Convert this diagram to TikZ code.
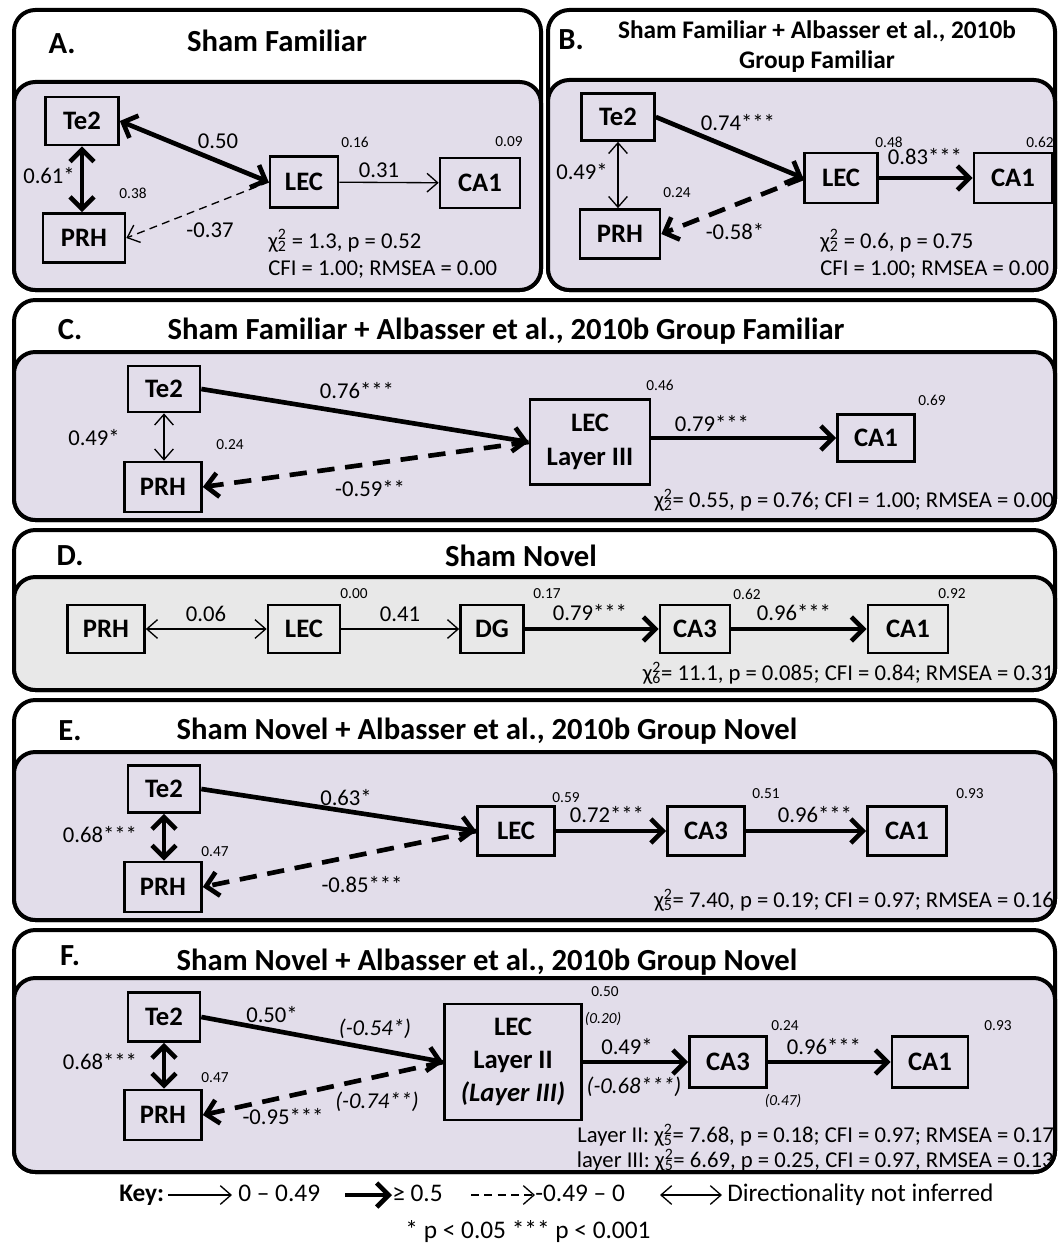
\documentclass[tikz,border=0pt]{standalone}
\usepackage{fontspec}
\setmainfont{Carlito}
\usetikzlibrary{arrows.meta}
\definecolor{famfill}{RGB}{226,221,234}
\definecolor{novfill}{RGB}{232,232,232}
\newcommand{\chisq}[1]{χ\rlap{\textsuperscript{2}}\textsubscript{#1}}

\begin{document}
\begin{tikzpicture}[
  x=0.75pt, y=-0.75pt,
  panel/.style={draw, line width=3pt, rounded corners=16pt},
  plot/.style={draw, line width=3pt, rounded corners=16pt, fill=famfill},
  var/.style={draw, line width=2pt, inner sep=0pt, align=center,
              font=\bfseries\fontsize{20}{25}\selectfont},
  wh/.style 2 args={minimum width=#1*0.75pt, minimum height=#2*0.75pt},
  ttl/.style={font=\bfseries\fontsize{23}{26}\selectfont, anchor=base, inner sep=0pt},
  lab/.style={font=\fontsize{17}{20}\selectfont, inner sep=1pt},
  ilab/.style={font=\itshape\fontsize{17}{20}\selectfont, inner sep=1pt},
  rsq/.style={font=\fontsize{11.5}{13}\selectfont, inner sep=1pt},
  fit/.style={font=\fontsize{17}{20.5}\selectfont, inner sep=0pt, align=left},
  keytxt/.style={font=\fontsize{19}{22}\selectfont, anchor=base west, inner sep=0pt},
  thin/.style={-{Straight Barb[length=8pt, width=14pt]}, line width=1pt},
  thk/.style={-{Straight Barb[length=9pt, width=18pt]}, line width=3.5pt},
  thinboth/.style={{Straight Barb[length=8pt, width=14pt]}-{Straight Barb[length=8pt, width=14pt]}, line width=1pt},
  thkboth/.style={{Straight Barb[length=9pt, width=18pt]}-{Straight Barb[length=9pt, width=18pt]}, line width=3.5pt},
  dsh/.style={dash pattern=on 13pt off 8pt}
]
\useasboundingbox (0,0) rectangle (1057,1245);

% A. sham familiar
\draw[panel] (14,10) rectangle (541,290);
\draw[plot] (14,82) rectangle (541,290);
\node[ttl] (a-id) at (62,54) {A.};
\node[ttl] (a-ttl) at (277,52) {Sham Familiar};
\node[var, wh={73}{48}] (a-te2) at (82,121) {Te2};
\node[var, wh={82}{49}] (a-prh) at (84,238) {PRH};
\node[var, wh={68}{51}] (a-lec) at (304,182) {LEC};
\node[var, wh={80}{50}] (a-ca1) at (480,183) {CA1};
\draw[thkboth] (a-te2.east) -- (a-lec.west);
\draw[thkboth] (a-te2.south) -- (a-te2.south |- a-prh.north);
\draw[thin, dash pattern=on 6pt off 4pt] (a-lec.west) -- (a-prh.east);
\draw[thin] (a-lec) -- (a-ca1);
\node[lab] (a-l1) at (218,141) {0.50};
\node[lab] (a-l2) at (49,176) {0.61*};
\node[lab] (a-l3) at (210,230) {-0.37};
\node[lab] (a-l4) at (379,170) {0.31};
\node[rsq] (a-r1) at (133,193) {0.38};
\node[rsq] (a-r2) at (355,142) {0.16};
\node[rsq] (a-r3) at (509,142) {0.09};
\node[fit, anchor=west] (a-fit) at (268,254) {\chisq{2} = 1.3, p = 0.52\\CFI = 1.00; RMSEA = 0.00};

% B. sham familiar + lesion group familiar
\draw[panel] (548,10) rectangle (1055,290);
\draw[plot] (548,80) rectangle (1055,290);
\node[ttl] (b-id) at (571,50) {B.};
\node[font=\bfseries\fontsize{19}{22.5}\selectfont, align=center] (b-ttl) at (817,47)
  {Sham Familiar + Albasser et al., 2010b\\Group Familiar};
\node[var, wh={73}{47}] (b-te2) at (618,117) {Te2};
\node[var, wh={80}{49}] (b-prh) at (620,234) {PRH};
\node[var, wh={73}{50}] (b-lec) at (841,178) {LEC};
\node[var, wh={78}{50}] (b-ca1) at (1013,178) {CA1};
\draw[thk] (b-te2.east) -- (b-lec.west);
\draw[thinboth] (b-te2.south) -- (b-te2.south |- b-prh.north);
\draw[thk, dsh] (b-lec.west) -- (b-prh.east);
\draw[thk] (b-lec) -- (b-ca1);
\node[lab] (b-l1) at (738,123) {0.74***};
\node[lab] (b-l2) at (582,172) {0.49*};
\node[lab] (b-l3) at (735,232) {-0.58*};
\node[lab] (b-l4) at (925,157) {0.83***};
\node[rsq] (b-r1) at (677,193) {0.24};
\node[rsq] (b-r2) at (889,142) {0.48};
\node[rsq] (b-r3) at (1040,142) {0.62};
\node[fit, anchor=west] (b-fit) at (820,254) {\chisq{2} = 0.6, p = 0.75\\CFI = 1.00; RMSEA = 0.00};

% C. pooled familiar, layer III
\draw[panel] (14,300) rectangle (1055,520);
\draw[plot] (14,352) rectangle (1055,520);
\node[ttl] (c-id) at (70,339) {C.};
\node[ttl] (c-ttl) at (506,339) {Sham Familiar + Albasser et al., 2010b Group Familiar};
\node[var, wh={72}{46}] (c-te2) at (164,389) {Te2};
\node[var, wh={77}{50}] (c-prh) at (163,487) {PRH};
\node[var, wh={120}{85}] (c-lec) at (590,442) {LEC\\Layer III};
\node[var, wh={77}{47}] (c-ca1) at (876,438) {CA1};
\draw[thk] (c-te2.east) -- (c-lec.west);
\draw[thinboth] (c-te2.south) -- (c-te2.south |- c-prh.north);
\draw[thk, dsh] (c-lec.west) -- (c-prh.east);
\draw[thk] (c-lec.east |- c-ca1) -- (c-ca1);
\node[lab] (c-l1) at (357,391) {0.76***};
\node[lab] (c-l2) at (94,438) {0.49*};
\node[lab] (c-l3) at (370,489) {-0.59**};
\node[lab] (c-l4) at (712,424) {0.79***};
\node[rsq] (c-r1) at (230,445) {0.24};
\node[rsq] (c-r2) at (660,385) {0.46};
\node[rsq] (c-r3) at (932,400) {0.69};
\node[fit, anchor=east] (c-fit) at (1054,500) {\chisq{2}= 0.55, p = 0.76; CFI = 1.00; RMSEA = 0.00};

% D. sham novel
\draw[panel] (14,530) rectangle (1055,690);
\draw[plot, fill=novfill] (14,577) rectangle (1055,690);
\node[ttl] (d-id) at (70,565) {D.};
\node[ttl] (d-ttl) at (521,566) {Sham Novel};
\node[var, wh={77}{48}] (d-prh) at (106,629) {PRH};
\node[var, wh={72}{48}] (d-lec) at (304,629) {LEC};
\node[var, wh={63}{48}] (d-dg) at (492,629) {DG};
\node[var, wh={70}{48}] (d-ca3) at (695,629) {CA3};
\node[var, wh={80}{48}] (d-ca1) at (908,629) {CA1};
\draw[thinboth] (d-prh) -- (d-lec);
\draw[thin] (d-lec) -- (d-dg);
\draw[thk] (d-dg) -- (d-ca3);
\draw[thk] (d-ca3) -- (d-ca1);
\node[lab] (d-l1) at (206,614) {0.06};
\node[lab] (d-l2) at (400,614) {0.41};
\node[lab] (d-l3) at (590,613) {0.79***};
\node[lab] (d-l4) at (794,613) {0.96***};
\node[rsq] (d-r1) at (354,594) {0.00};
\node[rsq] (d-r2) at (547,594) {0.17};
\node[rsq] (d-r3) at (747,594) {0.62};
\node[rsq] (d-r4) at (952,594) {0.92};
\node[fit, anchor=east] (d-fit) at (1054,673) {\chisq{6}= 11.1, p = 0.085; CFI = 0.84; RMSEA = 0.31};

% E. pooled novel
\draw[panel] (14,700) rectangle (1055,920);
\draw[plot] (14,752) rectangle (1055,920);
\node[ttl] (e-id) at (70,740) {E.};
\node[ttl] (e-ttl) at (487,739) {Sham Novel + Albasser et al., 2010b Group Novel};
\node[var, wh={72}{47}] (e-te2) at (164,789) {Te2};
\node[var, wh={77}{50}] (e-prh) at (163,887) {PRH};
\node[var, wh={77}{49}] (e-lec) at (516,831) {LEC};
\node[var, wh={77}{49}] (e-ca3) at (706,831) {CA3};
\node[var, wh={79}{49}] (e-ca1) at (907,831) {CA1};
\draw[thk] (e-te2.east) -- (e-lec.west);
\draw[thkboth] (e-te2.south) -- (e-te2.south |- e-prh.north);
\draw[thk, dsh] (e-lec.west) -- (e-prh.east);
\draw[thk] (e-lec) -- (e-ca3);
\draw[thk] (e-ca3) -- (e-ca1);
\node[lab] (e-l1) at (346,798) {0.63*};
\node[lab] (e-l2) at (100,835) {0.68***};
\node[lab] (e-l3) at (362,885) {-0.85***};
\node[lab] (e-l4) at (607,815) {0.72***};
\node[lab] (e-l5) at (815,815) {0.96***};
\node[rsq] (e-r1) at (215,852) {0.47};
\node[rsq] (e-r2) at (566,798) {0.59};
\node[rsq] (e-r3) at (766,794) {0.51};
\node[rsq] (e-r4) at (970,794) {0.93};
\node[fit, anchor=east] (e-fit) at (1054,900) {\chisq{5}= 7.40, p = 0.19; CFI = 0.97; RMSEA = 0.16};

% F. pooled novel, layer II (layer III)
\draw[panel] (14,930) rectangle (1055,1172);
\draw[plot] (14,978) rectangle (1055,1172);
\node[ttl] (f-id) at (70,965) {F.};
\node[ttl] (f-ttl) at (487,970) {Sham Novel + Albasser et al., 2010b Group Novel};
\node[var, wh={72}{49}] (f-te2) at (164,1017) {Te2};
\node[var, wh={77}{50}] (f-prh) at (163,1115) {PRH};
\node[var, wh={137}{116}] (f-lec) at (513,1062) {LEC\\Layer II\\\textit{(Layer III)}};
\node[var, wh={77}{51}] (f-ca3) at (728,1062) {CA3};
\node[var, wh={76}{51}] (f-ca1) at (930,1062) {CA1};
\draw[thk] (f-te2.east) -- (f-lec.west);
\draw[thkboth] (f-te2.south) -- (f-te2.south |- f-prh.north);
\draw[thk, dsh] (f-lec.west) -- (f-prh.east);
\draw[thk] (f-lec) -- (f-ca3);
\draw[thk] (f-ca3) -- (f-ca1);
\node[lab] (f-l1) at (272,1015) {0.50*};
\node[ilab] (f-l2) at (375,1029) {(-0.54*)};
\node[lab] (f-l3) at (100,1062) {0.68***};
\node[lab] (f-l4) at (283,1117) {-0.95***};
\node[ilab] (f-l5) at (377,1102) {(-0.74**)};
\node[lab] (f-l6) at (627,1047) {0.49*};
\node[ilab] (f-l7) at (634,1087) {(-0.68***)};
\node[lab] (f-l8) at (824,1047) {0.96***};
\node[rsq] (f-r1) at (215,1078) {0.47};
\node[rsq] (f-r2) at (605,992) {0.50};
\node[rsq, font=\itshape\fontsize{11.5}{13}\selectfont] (f-r3) at (603,1019) {(0.20)};
\node[rsq] (f-r4) at (785,1026) {0.24};
\node[rsq, font=\itshape\fontsize{11.5}{13}\selectfont] (f-r5) at (783,1101) {(0.47)};
\node[rsq] (f-r6) at (998,1026) {0.93};
\node[fit, anchor=east] (f-fit1) at (1054,1135) {Layer II: \chisq{5}= 7.68, p = 0.18; CFI = 0.97; RMSEA = 0.17};
\node[fit, anchor=east] (f-fit2) at (1054,1160) {layer III: \chisq{5}= 6.69, p = 0.25, CFI = 0.97, RMSEA = 0.13};

% key
\node[keytxt, font=\bfseries\fontsize{19}{22}\selectfont] (k-key) at (119,1201) {Key:};
\coordinate (k-a1) at (168,1195);
\coordinate (k-b1) at (232,1195);
\node[keytxt] (k-t1) at (238,1201) {0 -- 0.49};
\coordinate (k-a2) at (345,1195);
\coordinate (k-b2) at (392,1195);
\node[keytxt] (k-t2) at (392,1201) {≥ 0.5};
\coordinate (k-a3) at (471,1195);
\coordinate (k-b3) at (535,1195);
\node[keytxt] (k-t3) at (535,1201) {-0.49 -- 0};
\coordinate (k-a4) at (660,1195);
\coordinate (k-b4) at (722,1195);
\node[keytxt] (k-t4) at (727,1201) {Directionality not inferred};
\draw[thin] (k-a1) -- (k-b1);
\draw[thk] (k-a2) -- (k-b2);
\draw[thin, dash pattern=on 6pt off 4pt] (k-a3) -- (k-b3);
\draw[thinboth] (k-a4) -- (k-b4);
\node[lab, font=\fontsize{19}{22}\selectfont] (k-sig) at (528,1232) {* p < 0.05 *** p < 0.001};
\end{tikzpicture}
\end{document}
